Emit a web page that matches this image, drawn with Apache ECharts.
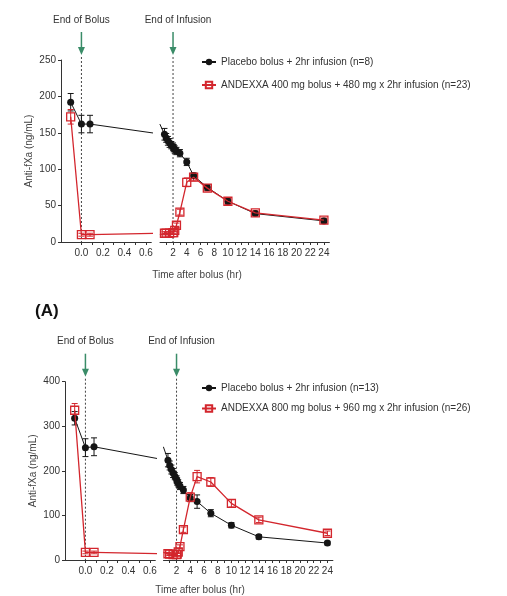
<!DOCTYPE html>
<html><head><meta charset="utf-8">
<script src="https://cdn.jsdelivr.net/npm/echarts@6/dist/echarts.min.js"></script>
<style>html,body{margin:0;padding:0;background:#fff}#c{width:507px;height:596px}</style>
</head><body><div id="c"></div>
<script>
// ---------- Panel 1 : ANDEXXA 400 mg ----------
const p1PlaceboName = 'Placebo bolus + 2hr infusion (n=8)';
const p1AndexxaName = 'ANDEXXA 400 mg bolus + 480 mg x 2hr infusion (n=23)';
const p1PlaceboTime = [-0.1, 0.0, 0.08, 0.75, 1, 1.25, 1.5, 1.75, 2, 2.1, 2.25, 2.5, 3, 4, 5, 7, 10, 14, 24];
const p1PlaceboVal  = [192, 162, 162, 148, 143, 139, 136, 133, 131, 129, 127, 125, 122, 110, 91, 75, 56, 39, 29];
const p1PlaceboErr  = [12, 12, 12, 8, 6, 6, 6, 5, 5, 5, 5, 5, 5, 5, 4, 4, 4, 3, 3];
const p1AndexxaTime = [-0.1, 0.0, 0.08, 0.75, 1, 1.5, 2, 2.1, 2.25, 2.5, 3, 4, 5, 7, 10, 14, 24];
const p1AndexxaVal  = [172, 10, 10, 12, 12, 12, 13, 13, 16, 23, 41, 82, 89, 74, 56, 40, 30];
const p1AndexxaErr  = [10, 2, 2, 2, 2, 2, 2, 2, 2, 3, 4, 6, 5, 4, 4, 3, 3];

// ---------- Panel 2 : ANDEXXA 800 mg ----------
const p2PlaceboName = 'Placebo bolus + 2hr infusion (n=13)';
const p2AndexxaName = 'ANDEXXA 800 mg bolus + 960 mg x 2hr infusion (n=26)';
const p2PlaceboTime = [-0.1, 0.0, 0.08, 0.75, 1, 1.25, 1.5, 1.75, 2, 2.1, 2.25, 2.5, 3, 4, 5, 7, 10, 14, 24];
const p2PlaceboVal  = [318, 252, 254, 224, 212, 203, 195, 188, 181, 176, 172, 166, 157, 139, 131, 105, 78, 52, 38];
const p2PlaceboErr  = [15, 20, 20, 15, 10, 10, 10, 8, 8, 8, 8, 8, 8, 8, 15, 8, 6, 5, 4];
const p2AndexxaTime = [-0.1, 0.0, 0.08, 0.75, 1, 1.5, 2, 2.1, 2.25, 2.5, 3, 4, 5, 7, 10, 14, 24];
const p2AndexxaVal  = [336, 17, 17, 14, 13, 12, 12, 13, 18, 30, 68, 141, 187, 175, 127, 90, 60];
const p2AndexxaErr  = [15, 3, 3, 3, 3, 3, 3, 3, 3, 4, 6, 10, 14, 10, 8, 6, 5];

// ---------- axes / ticks ----------
const leftTicks   = [0, 0.1, 0.2, 0.3, 0.4, 0.5, 0.6];
const leftLabels  = [0, 0.2, 0.4, 0.6];
const rightTicks  = [1,2,3,4,5,6,7,8,9,10,11,12,13,14,15,16,17,18,19,20,21,22,23,24];
const rightLabels = [2,4,6,8,10,12,14,16,18,20,22,24];
const p1YMax = 250, p1YStep = 50;
const p2YMax = 400, p2YStep = 100;
const eventTimes  = [0, 2];
const eventLabels = ['End of Bolus', 'End of Infusion'];
const yTitle = 'Anti-fXa (ng/mL)';
const xTitle = 'Time after bolus (hr)';

const FONT = 'Liberation Sans, Arial, sans-serif';
const BLACK = '#151515', RED = '#d3262d', GREEN = '#3a8c68', AX = '#333';
const LEFT_MIN = -0.19, LEFT_MAX = 0.65, RIGHT_MIN = 0.1, RIGHT_MAX = 24.8;

const chart = echarts.init(document.getElementById('c'), null, {renderer: 'canvas'});

const grids = [
  {left: 61,    top: 60,    width: 90.3,  height: 182},
  {left: 160,   top: 60,    width: 169.4, height: 182},
  {left: 65,    top: 381.7, width: 90.3,  height: 178.3},
  {left: 163.5, top: 381.7, width: 169.4, height: 178.3}
].map(g => Object.assign({outerBoundsMode: 'none', containLabel: false}, g));

function xAxisDef(gi, isLeft) {
  return {
    type: 'value', gridIndex: gi,
    min: isLeft ? LEFT_MIN : RIGHT_MIN, max: isLeft ? LEFT_MAX : RIGHT_MAX,
    splitLine: {show: false},
    axisLine: {show: true, onZero: false, lineStyle: {color: AX, width: 1}},
    axisTick: {show: true, length: 3, customValues: isLeft ? leftTicks : rightTicks, lineStyle: {color: AX}},
    axisLabel: {
      customValues: isLeft ? leftLabels : rightLabels, margin: 6,
      fontSize: 10, color: '#333', fontFamily: FONT,
      formatter: v => isLeft ? Number(v).toFixed(1) : String(v)
    }
  };
}
function yAxisDef(gi, ymax, step, show) {
  return {
    type: 'value', gridIndex: gi, min: 0, max: ymax, interval: step, show: show,
    splitLine: {show: false},
    axisLine: {show: show, onZero: false, lineStyle: {color: AX}},
    axisTick: {show: show, length: 3, lineStyle: {color: AX}},
    axisLabel: {show: show, fontSize: 10, color: '#333', fontFamily: FONT, margin: 5},
    name: show ? yTitle : '', nameLocation: 'middle', nameGap: 27,
    nameTextStyle: {fontSize: 10, color: '#444', fontFamily: FONT}
  };
}

const xAxes = [xAxisDef(0, true), xAxisDef(1, false), xAxisDef(2, true), xAxisDef(3, false)];
const yAxes = [yAxisDef(0, p1YMax, p1YStep, true), yAxisDef(1, p1YMax, p1YStep, false),
               yAxisDef(2, p2YMax, p2YStep, true), yAxisDef(3, p2YMax, p2YStep, false)];

// Build series data for one axis segment: keep the in-range points plus the
// neighbouring point on each side (so the line runs into the axis break),
// neighbours drawn without a symbol.
function segmentData(times, vals, lo, hi) {
  let s = 0, e = times.length - 1;
  for (let i = 0; i < times.length; i++) if (times[i] < lo) s = i;
  for (let i = times.length - 1; i >= 0; i--) if (times[i] > hi) e = i;
  const out = [];
  for (let i = s; i <= e; i++) {
    const inside = times[i] >= lo && times[i] <= hi;
    out.push(inside ? [times[i], vals[i]] : {value: [times[i], vals[i]], symbol: 'none'});
  }
  return out;
}
const zip3 = (t, v, e) => t.map((x, i) => [x, v[i], e[i]]);

function lineSeries(name, gi, times, vals, isRed, isLeft) {
  return {
    type: 'line', name: name, xAxisIndex: gi, yAxisIndex: gi,
    data: isLeft ? segmentData(times, vals, LEFT_MIN, LEFT_MAX) : segmentData(times, vals, RIGHT_MIN, RIGHT_MAX),
    clip: true, z: isRed ? 4 : 3,
    symbol: isRed ? 'rect' : 'circle', symbolSize: isRed ? 8 : 7,
    lineStyle: {color: isRed ? RED : BLACK, width: isRed ? 1.3 : 1},
    itemStyle: isRed ? {color: 'rgba(255,255,255,0)', borderColor: RED, borderWidth: 1.3}
                     : {color: BLACK, borderColor: BLACK, borderWidth: 0},
    emphasis: {disabled: true}, animation: false
  };
}
function errSeries(gi, times, vals, errs, color, lo, hi) {
  return {
    type: 'custom', name: 'err', xAxisIndex: gi, yAxisIndex: gi, clip: true, z: 2,
    data: zip3(times, vals, errs), animation: false, silent: true,
    renderItem: (params, api) => {
      const t = api.value(0), v = api.value(1), e = api.value(2);
      if (t < lo || t > hi) return null;
      const a = api.coord([t, v - e]), b = api.coord([t, v + e]);
      const st = {stroke: color, lineWidth: 1};
      return {type: 'group', children: [
        {type: 'line', shape: {x1: a[0], y1: a[1], x2: b[0], y2: b[1]}, style: st},
        {type: 'line', shape: {x1: a[0]-3, y1: a[1], x2: a[0]+3, y2: a[1]}, style: st},
        {type: 'line', shape: {x1: b[0]-3, y1: b[1], x2: b[0]+3, y2: b[1]}, style: st}
      ]};
    }
  };
}
function eventSeries(gi, idx) {
  return {
    type: 'custom', name: 'evt', xAxisIndex: gi, yAxisIndex: gi, clip: false, z: 1,
    data: [[eventTimes[idx], 0]], animation: false, silent: true,
    renderItem: (params, api) => {
      const x = api.coord([api.value(0), 0])[0];
      const top = params.coordSys.y, bottom = top + params.coordSys.height;
      return {type: 'group', children: [
        {type: 'line', shape: {x1: x, y1: top - 3, x2: x, y2: bottom}, style: {stroke: '#444', lineWidth: 1, lineDash: [2, 2]}},
        {type: 'line', shape: {x1: x, y1: top - 28, x2: x, y2: top - 12}, style: {stroke: GREEN, lineWidth: 1.5}},
        {type: 'polygon', shape: {points: [[x - 3.5, top - 13], [x + 3.5, top - 13], [x, top - 5]]}, style: {fill: GREEN}},
        {type: 'text', x: x + (idx === 1 ? 5 : 0), y: top - 40,
         style: {text: eventLabels[idx], align: 'center', verticalAlign: 'middle', fontSize: 10, fill: '#333', fontFamily: FONT}}
      ]};
    }
  };
}

const series = [];
const panels = [
  {g: [0, 1], pn: p1PlaceboName, an: p1AndexxaName, pt: p1PlaceboTime, pv: p1PlaceboVal, pe: p1PlaceboErr, at: p1AndexxaTime, av: p1AndexxaVal, ae: p1AndexxaErr},
  {g: [2, 3], pn: p2PlaceboName, an: p2AndexxaName, pt: p2PlaceboTime, pv: p2PlaceboVal, pe: p2PlaceboErr, at: p2AndexxaTime, av: p2AndexxaVal, ae: p2AndexxaErr}
];
panels.forEach(p => {
  series.push(eventSeries(p.g[0], 0), eventSeries(p.g[1], 1));
  p.g.forEach((gi, k) => {
    const lo = k === 0 ? LEFT_MIN : RIGHT_MIN, hi = k === 0 ? LEFT_MAX : RIGHT_MAX;
    series.push(errSeries(gi, p.pt, p.pv, p.pe, BLACK, lo, hi));
    series.push(errSeries(gi, p.at, p.av, p.ae, RED, lo, hi));
  });
  p.g.forEach((gi, k) => {
    series.push(lineSeries(p.pn, gi, p.pt, p.pv, false, k === 0));
    series.push(lineSeries(p.an, gi, p.at, p.av, true, k === 0));
  });
});

const legendBase = {
  orient: 'vertical', left: 196, itemWidth: 14, itemHeight: 8,
  textStyle: {fontSize: 10, color: '#333', fontFamily: FONT, lineHeight: 12}, selectedMode: false
};

chart.setOption({
  backgroundColor: '#fff',
  animation: false,
  grid: grids,
  xAxis: xAxes,
  yAxis: yAxes,
  legend: [
    Object.assign({}, legendBase, {top: 51, itemGap: 11, data: [p1PlaceboName, p1AndexxaName]}),
    Object.assign({}, legendBase, {top: 377, itemGap: 8.5, data: [p2PlaceboName, p2AndexxaName]})
  ],
  graphic: [
    {type: 'text', left: 35, top: 303, style: {text: '(A)', fontSize: 17, fontWeight: 'bold', fill: '#111', fontFamily: FONT}},
    {type: 'text', x: 197, y: 275, style: {text: xTitle, align: 'center', verticalAlign: 'middle', fontSize: 10, fill: '#444', fontFamily: FONT}},
    {type: 'text', x: 200, y: 590, style: {text: xTitle, align: 'center', verticalAlign: 'middle', fontSize: 10, fill: '#444', fontFamily: FONT}}
  ],
  series: series
});
</script>
</body></html>
